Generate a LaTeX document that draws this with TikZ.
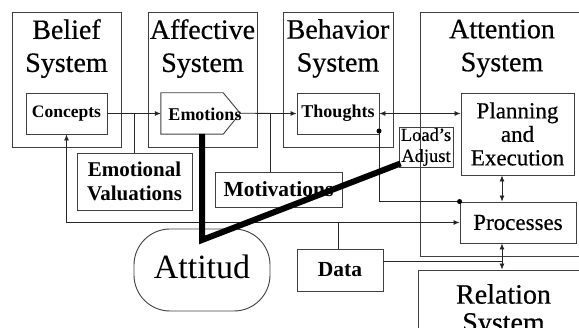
\documentclass[tikz,border=0pt]{standalone}
\usepackage{fontspec}
\setmainfont{Liberation Serif}
\newfontfamily\heavyserif[FakeBold=0.5]{Liberation Serif}
\usetikzlibrary{arrows.meta,calc}
\begin{document}
\begin{tikzpicture}[x=1pt,y=-1pt,
  frame/.style={draw=black!75, line width=0.9pt, rectangle, inner sep=0pt},
  title/.style={font=\heavyserif\fontsize{28}{33}\selectfont, align=center, inner sep=0pt, anchor=north},
  box/.style={draw=black!75, line width=0.9pt, rectangle, inner sep=0pt, align=center},
  bsmall/.style={font=\bfseries\fontsize{18}{22}\selectfont},
  wire/.style={draw=black!85, line width=0.8pt},
  tip/.style={-{Latex[length=6pt,width=5pt]}},
  dtip/.style={{Latex[length=6pt,width=5pt]}-{Latex[length=6pt,width=5pt]}},
  dot/.style={circle, fill=black, inner sep=0pt, minimum size=5pt},
  heavy/.style={draw=black, line width=6pt, line join=miter}
]
\path[use as bounding box] (0,0) rectangle (579,328);
\clip (0,0) rectangle (579,328);

% subsystem frames
\node[frame, minimum width=109, minimum height=135] (belief) at (66.5,79.5) {};
\node[frame, minimum width=109, minimum height=135] (affective) at (202.5,79.5) {};
\node[frame, minimum width=110, minimum height=135] (behavior) at (338,79.5) {};
\node[frame, minimum width=180, minimum height=244] (attention) at (510,134) {};
\node[frame, minimum width=182, minimum height=90] (relation) at (509,315) {};

% frame titles
\node[title] (tbel) at (66.5,19) {Belief\\System};
\node[title] (taff) at (202.5,19) {Affective\\System};
\node[title] (tbeh) at (338,19) {Behavior\\System};
\node[title] (tatt) at (502,19.5) {Attention\\System};
\node[title, font=\heavyserif\fontsize{28}{28}\selectfont] (trel) at (503.5,284) {Relation\\System};

% inner boxes
\node[box, minimum width=81, minimum height=41, font=\bfseries\fontsize{17.5}{21}\selectfont] (concepts) at (66.5,113.5) {Concepts};
\node[minimum width=62, minimum height=41, inner sep=0pt] (emotions) at (192,113.5) {};
\draw[draw=black!75, line width=0.9pt] (emotions.north west) -- (emotions.north east)
  -- ++(17,20.5) coordinate (emotip) -- (emotions.south east) -- (emotions.south west) -- cycle;
\node[bsmall, inner sep=0pt] (emotext) at (205,114) {Emotions};
\node[box, bsmall, minimum width=82, minimum height=41] (thoughts) at (338,113.5) {Thoughts};
\node[box, minimum width=113, minimum height=82, font=\heavyserif\fontsize{23}{23.5}\selectfont] (planning) at (517.5,134) {Planning\\and\\Execution};
\node[box, minimum width=54, minimum height=40, font=\heavyserif\fontsize{18.5}{21}\selectfont] (loads) at (426,147) {Load’s\\Adjust};
\node[box, minimum width=116, minimum height=41, font=\heavyserif\fontsize{23}{27}\selectfont] (processes) at (518,222.5) {Processes};
\node[box, minimum width=86, minimum height=42, font=\bfseries\fontsize{21.5}{24}\selectfont] (data) at (340,270) {Data};
\node[box, minimum width=115, minimum height=57, font=\bfseries\fontsize{21}{24}\selectfont] (emoval) at (134.5,181.5) {Emotional\\Valuations};
\node[box, minimum width=127, minimum height=35, font=\bfseries\fontsize{21.5}{24}\selectfont] (motiv) at (278.5,189.5) {Motivations};
\node[box, rounded corners=36, minimum width=136, minimum height=82, text depth=7pt, font=\fontsize{34}{38}\selectfont] (attitud) at (202,270) {Attitud};

% connectors
\coordinate (cvx) at (134.5,113.5);
\coordinate (mvx) at (270.5,113.5);
\coordinate (pvx) at (502,0);
\coordinate (djn) at (338,222.5);
\coordinate (tdot) at (379,131);

\draw[wire, tip] (concepts.east) -- (emotions.west);
\draw[wire] (cvx) -- (emoval.north);
\draw[wire, tip] (emotip) -- (thoughts.west);
\draw[wire] (mvx) -- (mvx |- motiv.north);
\draw[wire, dtip] (thoughts.east) -- (thoughts.east -| planning.west);
\draw[wire] (tdot) -- (tdot |- processes.north) -- (processes.north west);
\node[dot] (d1) at (tdot) {};
\node[dot] (d2) at (processes.north west) {};
\draw[wire, dtip] (pvx |- planning.south) -- (pvx |- processes.north);
\draw[wire, dtip] (pvx |- processes.south) -- (pvx |- relation.north);
\draw[wire] ($(data.north east)+(0,12.5)$) -- (pvx |- {$(data.north east)+(0,12.5)$});
\draw[wire] (djn |- data.north) -- (djn);
\draw[wire, tip] (djn) -- (processes.west);
\draw[wire, tip] (djn) -| (concepts.south);

% heavy link from emotions through attitude to load adjustment
\draw[heavy] (202,134) -- (202,240) -- ($(loads.south west)+(2,-4)$);
\end{tikzpicture}
\end{document}
